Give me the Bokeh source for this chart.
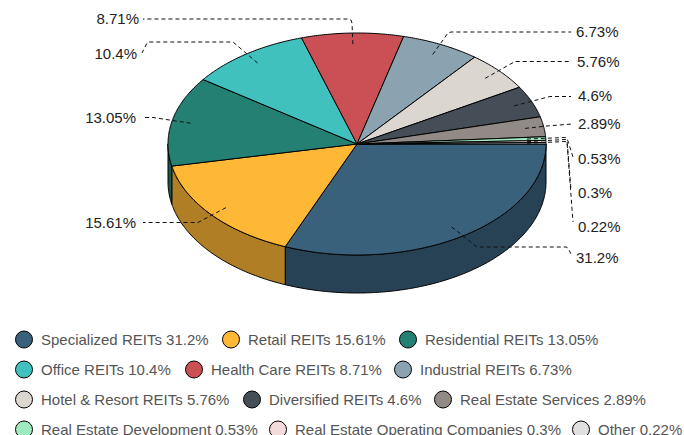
import numpy as np
from bokeh.plotting import figure
from bokeh.models import Range1d, ColumnDataSource
from bokeh.core.properties import value
from bokeh.embed import file_html
from bokeh.resources import INLINE

categories = ["Specialized REITs", "Retail REITs", "Residential REITs", "Office REITs",
              "Health Care REITs", "Industrial REITs", "Hotel & Resort REITs", "Diversified REITs",
              "Real Estate Services", "Real Estate Development",
              "Real Estate Operating Companies", "Other"]
shares = [31.2, 15.61, 13.05, 10.4, 8.71, 6.73, 5.76, 4.6, 2.89, 0.53, 0.3, 0.22]
colors = ["#3A617C", "#FFB736", "#238073", "#40C1BD", "#CB5055", "#8BA3B0",
          "#DBD6CF", "#454E57", "#918A86", "#9FEAC0", "#F5DADB", "#E0E0E0"]

# pie geometry (page pixels)
CX, CY, RX, RY, DEPTH = 357.0, 144.0, 189.0, 111.0, 38.0
FONT = value("Liberation Sans")


def shade(hex_color, k=0.69):
    r, g, b = (int(hex_color[i:i + 2], 16) for i in (1, 3, 5))
    return "#%02X%02X%02X" % (int(r * k), int(g * k), int(b * k))


def rim(a0, a1, f=1.0, dy=0.0):
    n = max(2, int(abs(a1 - a0) * 90) + 2)
    t = np.linspace(a0, a1, n)
    return CX + f * RX * np.cos(t), CY + f * RY * np.sin(t) + dy


fractions = np.array(shares) / sum(shares)
edges = np.concatenate([[0.0], np.cumsum(fractions)]) * 2 * np.pi
mids = (edges[:-1] + edges[1:]) / 2

p = figure(width=684, height=435, output_backend="svg", toolbar_location=None,
           x_range=Range1d(0.5, 684.5), y_range=Range1d(435.5, 0.5), min_border=0)
p.axis.visible = False
p.grid.visible = False
p.outline_line_color = None

# side walls (only the front half of the disc shows)
wall_x, wall_y, wall_c = [], [], []
for a0, a1, c in zip(edges[:-1], edges[1:], colors):
    lo, hi = a0, min(a1, np.pi)
    if lo >= np.pi:
        continue
    x_top, y_top = rim(lo, hi)
    x_bot, y_bot = rim(hi, lo, dy=DEPTH)
    wall_x.append(np.concatenate([x_top, x_bot]).tolist())
    wall_y.append(np.concatenate([y_top, y_bot]).tolist())
    wall_c.append(shade(c))
p.patches(xs=wall_x, ys=wall_y, fill_color=wall_c, line_color="#000000", line_width=1)

# top face
top_x, top_y = [], []
for a0, a1 in zip(edges[:-1], edges[1:]):
    x, y = rim(a0, a1)
    top_x.append([CX] + x.tolist())
    top_y.append([CY] + y.tolist())
p.patches(xs=top_x, ys=top_y, fill_color=colors, line_color="#000000", line_width=1)

# leader routes: bend points after the in-slice anchor, finishing next to the label
routes = [
    [(477, 247), (566, 247), (568, 248), (572, 256)],
    [(198, 222.5), (143, 222.5)],
    [(153, 117.5), (143, 117.5)],
    [(233, 42), (149, 42), (147, 43), (142, 53)],
    [(352, 23), (351, 20), (347, 19), (143, 19)],
    [(448, 33), (451, 32), (571, 32)],
    [(515, 61.5), (571, 61.5)],
    [(550, 96.5), (571, 96.5)],
    [(547, 126), (572, 124)],
    [(565, 137.5), (567, 138), (573, 157)],
    [(565, 139.5), (567, 140), (571, 190)],
    [(565, 141.5), (567, 142), (573, 222)],
]
lead_x, lead_y = [], []
for m, r in zip(mids, routes):
    ax, ay = rim(m, m, f=0.9)
    lead_x.append([ax[0]] + [q[0] for q in r])
    lead_y.append([ay[0]] + [q[1] for q in r])
p.multi_line(xs=lead_x, ys=lead_y, line_color="#111111", line_width=1, line_dash="4 3")

# slice labels
label_pos = [(576, 257, "left"), (136, 222, "right"), (136, 117, "right"), (137, 53, "right"),
             (139, 18, "right"), (576, 31, "left"), (577, 61, "left"), (578, 95, "left"),
             (578, 123, "left"), (578, 158, "left"), (578, 192, "left"), (578, 226, "left")]
p.text(x=[q[0] for q in label_pos], y=[q[1] for q in label_pos],
       text=[f"{s}%" for s in shares], text_align=[q[2] for q in label_pos],
       text_baseline="middle", text_font=FONT, text_font_size="15px", text_color="#222222")

# legend
legend_pos = [(24, 339.5), (231, 339.5), (408, 339.5),
              (24, 369.5), (194, 369.5), (403, 369.5),
              (24, 399.5), (252, 399.5), (443, 399.5),
              (24, 429.5), (278, 429.5), (581, 429.5)]
legend_order = [0, 1, 2, 3, 4, 5, 6, 7, 8, 9, 10, 11]
src = ColumnDataSource(dict(
    x=[q[0] for q in legend_pos],
    y=[q[1] for q in legend_pos],
    tx=[q[0] + 17 for q in legend_pos],
    c=[colors[i] for i in legend_order],
    t=[f"{categories[i]} {shares[i]}%" for i in legend_order],
))
p.scatter(x="x", y="y", size=17, fill_color="c", line_color="#000000", line_width=1, source=src)
p.text(x="tx", y="y", text="t", text_baseline="middle", text_font=FONT,
       text_font_size="15px", text_color="#555555", source=src)

open("out.html", "w").write(file_html(p, INLINE))
